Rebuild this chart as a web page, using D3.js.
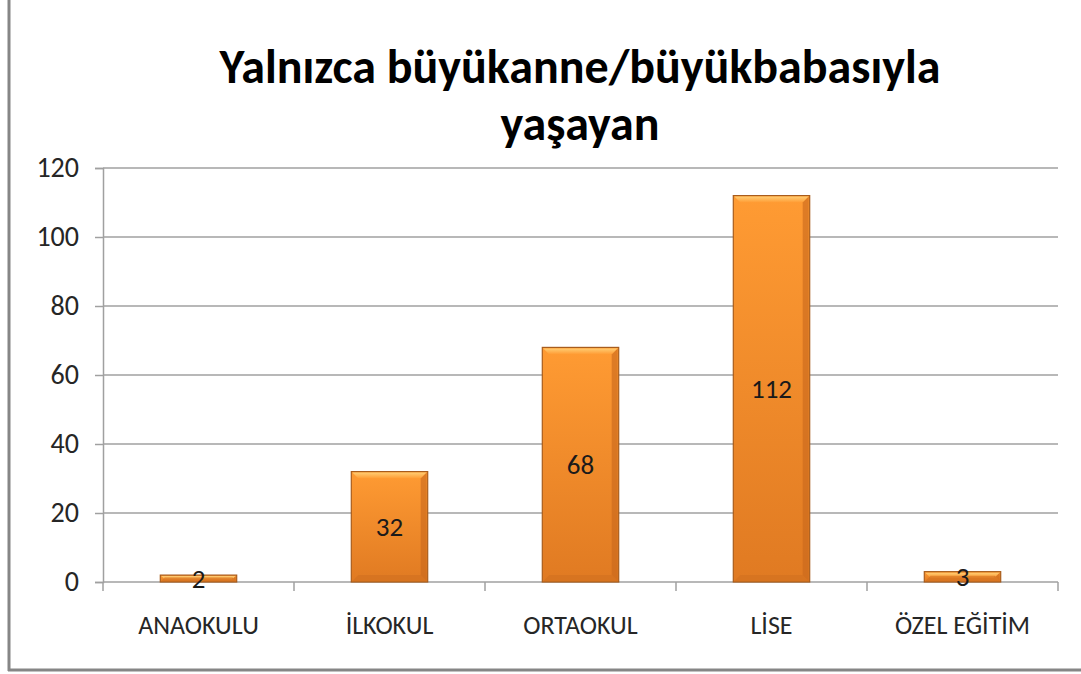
<!DOCTYPE html>
<html>
<head>
<meta charset="utf-8">
<script src="https://cdn.jsdelivr.net/npm/d3@7"></script>
<style>
  html, body { margin: 0; padding: 0; background: #fff; }
  svg { display: block; font-family: Carlito, Lato, 'Open Sans', sans-serif; }
</style>
</head>
<body>
<div id="chart"></div>
<script>
const categories = ['ANAOKULU', 'İLKOKUL', 'ORTAOKUL', 'LİSE', 'ÖZEL EĞİTİM'];
const values = [2, 32, 68, 112, 3];
const yTicks = [0, 20, 40, 60, 80, 100, 120];
const titleLines = ['Yalnızca büyükanne/büyükbabasıyla', 'yaşayan'];

const width = 1081;
const height = 674;
const plot = {left: 103, right: 1058, top: 168, bottom: 582};

const svg = d3.select('#chart')
  .append('svg')
    .attr('width', width)
    .attr('height', height);

// Gradients for the bevelled bars
const defs = svg.append('defs');
const bodyGrad = defs.append('linearGradient')
  .attr('id', 'bar-body')
  .attr('x1', 0).attr('y1', 0).attr('x2', 0).attr('y2', 1);
bodyGrad.append('stop').attr('offset', '0%').attr('stop-color', '#ff9b33');
bodyGrad.append('stop').attr('offset', '100%').attr('stop-color', '#e07a22');

const topGrad = defs.append('linearGradient')
  .attr('id', 'bar-top')
  .attr('x1', 0).attr('y1', 0).attr('x2', 0).attr('y2', 1);
topGrad.append('stop').attr('offset', '0%').attr('stop-color', '#ffd27a');
topGrad.append('stop').attr('offset', '100%').attr('stop-color', '#ff9b33');

// Outer frame (left and bottom visible)
svg.append('line')
  .attr('x1', 9).attr('y1', 0).attr('x2', 9).attr('y2', 671)
  .attr('stroke', '#868686').attr('stroke-width', 3);
svg.append('line')
  .attr('x1', 8).attr('y1', 670).attr('x2', width).attr('y2', 670)
  .attr('stroke', '#868686').attr('stroke-width', 3);

// Title, two lines
svg.append('text')
  .attr('x', 580)
  .attr('text-anchor', 'middle')
  .attr('font-weight', 'bold')
  .attr('font-size', 48)
  .attr('fill', '#000')
  .selectAll('tspan')
  .data(titleLines)
  .enter().append('tspan')
    .attr('x', 580)
    .attr('y', (d, i) => 83 + i * 57)
    .text(d => d);

const x = d3.scaleBand()
  .domain(categories)
  .range([plot.left, plot.right])
  .paddingInner(0.6)
  .paddingOuter(0.3);

const xBand = d3.scaleBand()
  .domain(categories)
  .range([plot.left, plot.right]);

const y = d3.scaleLinear()
  .domain([0, 120])
  .range([plot.bottom, plot.top]);

// Y axis with gridlines
const yAxis = svg.append('g')
  .attr('transform', `translate(${plot.left},0)`)
  .call(d3.axisLeft(y).tickValues(yTicks).tickSize(8).tickPadding(16));
yAxis.select('.domain').attr('stroke', '#a0a0a0').attr('stroke-width', 1.5);
yAxis.selectAll('.tick line').attr('stroke', '#a0a0a0').attr('stroke-width', 1.5);
yAxis.selectAll('.tick text')
  .attr('font-size', 28)
  .attr('fill', '#262626')
  .attr('font-family', 'Carlito, Lato, sans-serif');

svg.append('g')
  .selectAll('line')
  .data(yTicks.filter(t => t > 0))
  .enter().append('line')
    .attr('x1', plot.left).attr('x2', plot.right)
    .attr('y1', d => y(d)).attr('y2', d => y(d))
    .attr('stroke', '#a0a0a0').attr('stroke-width', 1.5);

// X axis
const xAxis = svg.append('g')
  .attr('transform', `translate(0,${plot.bottom})`)
  .call(d3.axisBottom(xBand).tickSize(0).tickPadding(34));
xAxis.select('.domain').remove();
xAxis.selectAll('.tick text')
  .attr('font-size', 26)
  .attr('fill', '#262626')
  .attr('font-family', 'Carlito, Lato, sans-serif');

svg.append('line')
  .attr('x1', plot.left).attr('x2', plot.right)
  .attr('y1', plot.bottom).attr('y2', plot.bottom)
  .attr('stroke', '#a0a0a0').attr('stroke-width', 1.5);

// Category separator ticks
const edges = categories.map(c => xBand(c)).concat([plot.right]);
svg.append('g')
  .selectAll('line')
  .data(edges)
  .enter().append('line')
    .attr('x1', d => d).attr('x2', d => d)
    .attr('y1', plot.bottom).attr('y2', plot.bottom + 9)
    .attr('stroke', '#a0a0a0').attr('stroke-width', 1.5);

// Bars
const data = categories.map((c, i) => ({cat: c, value: values[i]}));
const bars = svg.append('g')
  .selectAll('g')
  .data(data)
  .enter().append('g');

bars.append('rect')
  .attr('x', d => x(d.cat))
  .attr('y', d => y(d.value))
  .attr('width', x.bandwidth())
  .attr('height', d => y(0) - y(d.value))
  .attr('fill', 'url(#bar-body)')
  .attr('stroke', '#a85c1c')
  .attr('stroke-width', 1.2);

// top bevel highlight
bars.append('path')
  .attr('d', d => {
    const x0 = x(d.cat) + 1, x1 = x(d.cat) + x.bandwidth() - 1;
    const y0 = y(d.value) + 1;
    const h = Math.min(6, (y(0) - y(d.value)) / 2);
    return `M${x0},${y0}L${x1},${y0}L${x1 - h},${y0 + h}L${x0 + h},${y0 + h}Z`;
  })
  .attr('fill', 'url(#bar-top)')
  .attr('opacity', 0.9);

// side and bottom bevel shading
bars.append('path')
  .attr('d', d => {
    const x1 = x(d.cat) + x.bandwidth() - 1;
    const y0 = y(d.value) + 1, y1 = y(0) - 1;
    const h = Math.min(6, (y(0) - y(d.value)) / 2);
    return `M${x1},${y0}L${x1},${y1}L${x1 - h},${y1 - h}L${x1 - h},${y0 + h}Z`;
  })
  .attr('fill', '#c8681c')
  .attr('opacity', 0.6);

bars.append('path')
  .attr('d', d => {
    const x0 = x(d.cat) + 1, x1 = x(d.cat) + x.bandwidth() - 1;
    const y1 = y(0) - 1;
    const h = Math.min(6, (y(0) - y(d.value)) / 2);
    return `M${x0},${y1}L${x1},${y1}L${x1 - h},${y1 - h}L${x0 + h},${y1 - h}Z`;
  })
  .attr('fill', '#d06f1f')
  .attr('opacity', 0.6);

// Value labels
bars.append('text')
  .attr('x', d => x(d.cat) + x.bandwidth() / 2)
  .attr('y', d => (y(d.value) + y(0)) / 2)
  .attr('dy', '0.35em')
  .attr('text-anchor', 'middle')
  .attr('font-size', 27)
  .attr('fill', '#1a1a1a')
  .text(d => d.value);
</script>
</body>
</html>
